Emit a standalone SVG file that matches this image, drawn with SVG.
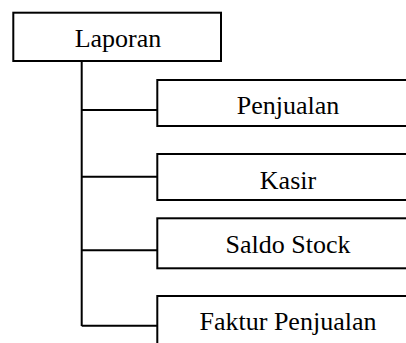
<svg xmlns="http://www.w3.org/2000/svg" width="406" height="343" viewBox="0 0 406 343">
<style>
.box{fill:#fff;stroke:#000;stroke-width:2}
.lbl{font-family:'Liberation Serif','DejaVu Serif',serif;font-size:26px;fill:#000;text-anchor:middle}
.con{fill:none;stroke:#000;stroke-width:2}
</style>
<rect width="406" height="343" fill="#fff"/>
<g id="connectors">
<path class="con" d="M81.7 61 V326 M81.7 110 H157.3 M81.7 176.7 H157.3 M81.7 250.3 H157.3 M81.7 325.7 H157.3"/>
</g>
<g id="laporan">
<rect class="box" x="13.3" y="12.7" width="207.7" height="48.3"/>
<text class="lbl" x="118" y="46.7" font-family="Liberation Serif, serif">Laporan</text>
</g>
<g id="penjualan">
<rect class="box" x="157.3" y="80" width="262" height="46"/>
<text class="lbl" x="288" y="114" font-family="Liberation Serif, serif">Penjualan</text>
</g>
<g id="kasir">
<rect class="box" x="157.3" y="154" width="262" height="46"/>
<text class="lbl" x="288" y="189" font-family="Liberation Serif, serif">Kasir</text>
</g>
<g id="saldo-stock">
<rect class="box" x="157.3" y="218.3" width="262" height="50"/>
<text class="lbl" x="288" y="252.7" font-family="Liberation Serif, serif">Saldo Stock</text>
</g>
<g id="faktur-penjualan">
<rect class="box" x="157.3" y="296" width="262" height="60"/>
<text class="lbl" x="288" y="330" font-family="Liberation Serif, serif">Faktur Penjualan</text>
</g>
</svg>
